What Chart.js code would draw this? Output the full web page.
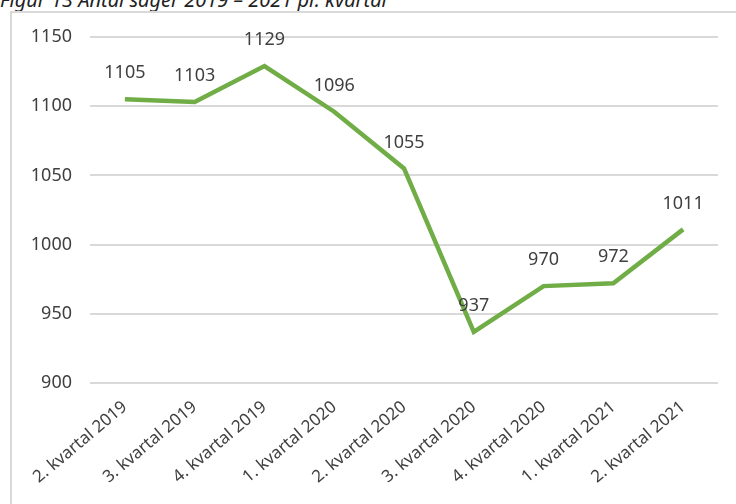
<!DOCTYPE html>
<html>
<head>
<meta charset="utf-8">
<script src="https://cdn.jsdelivr.net/npm/chart.js@4"></script>
<style>
  body { margin: 0; background: #fff; }
  #wrap { position: relative; width: 736px; height: 504px; overflow: hidden; }
  #frame { position: absolute; left: 10px; top: 11px; width: 800px; height: 600px; border: 2px solid #d9d9d9; }
  #title { position: absolute; left: 0; top: -14px; font: italic 20px "Noto Sans", sans-serif; color: #222; white-space: nowrap; }
  canvas { position: absolute; left: 0; top: 0; }
</style>
</head>
<body>
<div id="wrap">
  <div id="title">Figur 13 Antal sager 2019 – 2021 pr. kvartal</div>
  <div id="frame"></div>
  <canvas id="chart" width="736" height="504"></canvas>
</div>
<script>
const quarters = ['2. kvartal 2019', '3. kvartal 2019', '4. kvartal 2019', '1. kvartal 2020',
  '2. kvartal 2020', '3. kvartal 2020', '4. kvartal 2020', '1. kvartal 2021', '2. kvartal 2021'];
const cases = [1105, 1103, 1129, 1096, 1055, 937, 970, 972, 1011];

const yMin = 900;
const yMax = 1150;
const yStep = 50;

// value labels above each point, like the excel chart
const pointLabels = {
  id: 'pointLabels',
  afterDatasetsDraw(chart) {
    const ctx = chart.ctx;
    const meta = chart.getDatasetMeta(0);
    ctx.save();
    ctx.font = '18px "Noto Sans", sans-serif';
    ctx.fillStyle = '#404040';
    ctx.textAlign = 'center';
    ctx.textBaseline = 'middle';
    meta.data.forEach((pt, i) => {
      ctx.fillText(cases[i], pt.x, pt.y - 26);
    });
    ctx.restore();
  }
};

const ctx = document.getElementById('chart');
new Chart(ctx, {
  type: 'line',
  data: {
    labels: quarters,
    datasets: [{
      data: cases,
      borderColor: '#70ad47',
      borderWidth: 4.5,
      pointRadius: 0,
      tension: 0,
      fill: false
    }]
  },
  options: {
    responsive: false,
    animation: false,
    layout: { padding: { left: 0, right: 18, top: 37, bottom: 0 } },
    plugins: {
      legend: { display: false },
      tooltip: { enabled: false }
    },
    scales: {
      x: {
        offset: true,
        grid: { display: false, drawTicks: false },
        border: { display: false },
        ticks: {
          color: '#404040',
          font: { family: 'Noto Sans', size: 17 },
          minRotation: 40,
          maxRotation: 40,
          padding: 14,
          autoSkip: false
        },
        afterFit: s => { s.height = 121; }
      },
      y: {
        min: yMin,
        max: yMax,
        grid: { color: '#d9d9d9', lineWidth: 2, drawTicks: false },
        border: { display: false },
        ticks: {
          stepSize: yStep,
          color: '#404040',
          font: { family: 'Noto Sans', size: 18 },
          padding: 18,
          callback: v => String(v)
        },
        afterFit: s => { s.width = 90; }
      }
    }
  },
  plugins: [pointLabels]
});
</script>
</body>
</html>
